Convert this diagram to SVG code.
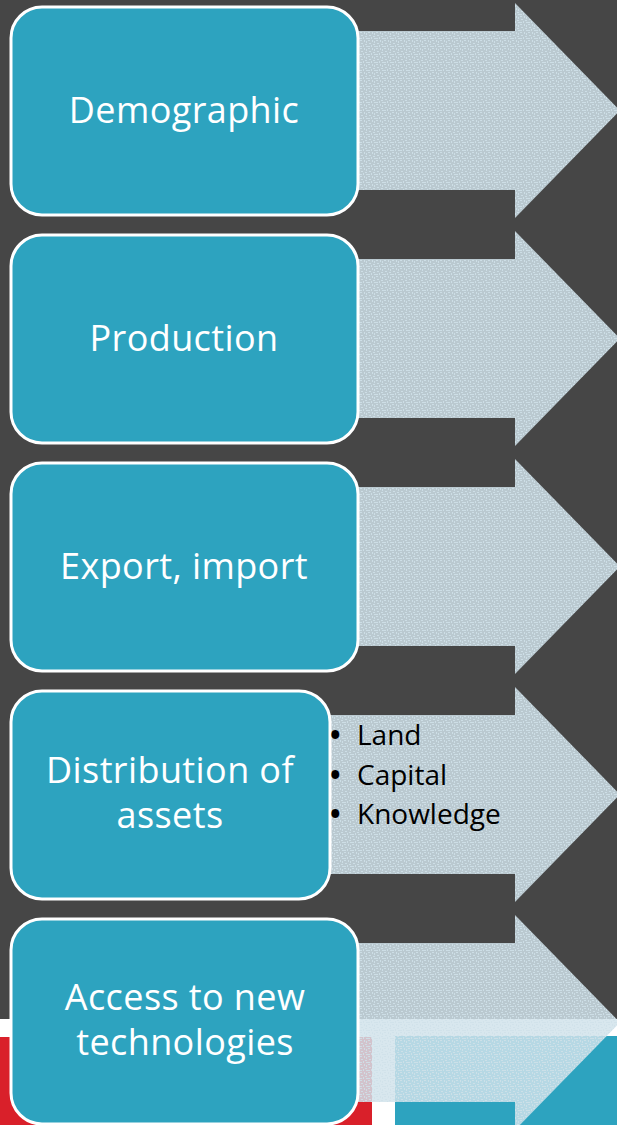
<svg xmlns="http://www.w3.org/2000/svg" width="617" height="1125" viewBox="0 0 617 1125">
  <defs>
    <pattern id="dots" width="8" height="8" patternUnits="userSpaceOnUse">
      <rect width="8" height="8" fill="#d0e2ea" fill-opacity="0.84"/>
      <path d="M0,0h2v1h-2z M4,0h1v2h-1z M1,3h2v1h-2z M5,4h2v1h-2z M3,5h1v2h-1z M6,1h1v2h-1z M0,6h2v1h-2z M6,6h2v1h-2z" fill="#d0e2ea" fill-opacity="0.85"/>
    </pattern>
    <path id="arrow" d="M320,31 H515 V3 L620,110.5 L515,218 V190 H320 Z"/>
  </defs>
  <style>
    .box { fill: #2da3bf; stroke: #ffffff; stroke-width: 3; }
    .arr { fill: url(#dots); }
    .lbl { font-family: "Open Sans", "Liberation Sans", sans-serif; font-size: 36px; fill: #ffffff; text-anchor: middle; letter-spacing: 0.4px; }
    .bul { font-family: "Open Sans", "Liberation Sans", sans-serif; font-size: 28px; fill: #000000; }
    .dot { font-weight: bold; }
  </style>

  <rect x="0" y="0" width="617" height="1125" fill="#464646"/>
  <rect x="0" y="1019" width="617" height="106" fill="#ffffff"/>
  <rect x="0" y="1037" width="372" height="88" fill="#d9202a"/>
  <rect x="395" y="1036" width="222" height="89" fill="#2da3bf"/>

  <g id="connectors">
    <use href="#arrow" class="arr"/>
    <use href="#arrow" class="arr" transform="translate(0,228)"/>
    <use href="#arrow" class="arr" transform="translate(0,456)"/>
    <use href="#arrow" class="arr" transform="translate(0,684)"/>
    <use href="#arrow" class="arr" transform="translate(0,912)"/>
  </g>

  <g id="demographic">
    <rect class="box" x="11" y="7" width="347" height="208" rx="31"/>
    <text class="lbl" x="184" y="123">Demographic</text>
  </g>
  <g id="production">
    <rect class="box" x="11" y="235" width="347" height="208" rx="31"/>
    <text class="lbl" x="184" y="351">Production</text>
  </g>
  <g id="export-import">
    <rect class="box" x="11" y="463" width="347" height="208" rx="31"/>
    <text class="lbl" x="184" y="579">Export, import</text>
  </g>
  <g id="distribution">
    <rect class="box" x="11" y="691" width="319" height="208" rx="31"/>
    <text class="lbl" x="170" y="783">Distribution of</text>
    <text class="lbl" x="170" y="828">assets</text>
  </g>
  <g id="assets-list">
    <text class="bul" y="745"><tspan class="dot" x="330">•</tspan><tspan x="357">Land</tspan></text>
    <text class="bul" y="785"><tspan class="dot" x="330">•</tspan><tspan x="357">Capital</tspan></text>
    <text class="bul" y="824"><tspan class="dot" x="330">•</tspan><tspan x="357">Knowledge</tspan></text>
  </g>
  <g id="technologies">
    <rect class="box" x="11" y="919" width="347" height="205" rx="31"/>
    <text class="lbl" x="185" y="1010">Access to new</text>
    <text class="lbl" x="185" y="1055">technologies</text>
  </g>
</svg>
